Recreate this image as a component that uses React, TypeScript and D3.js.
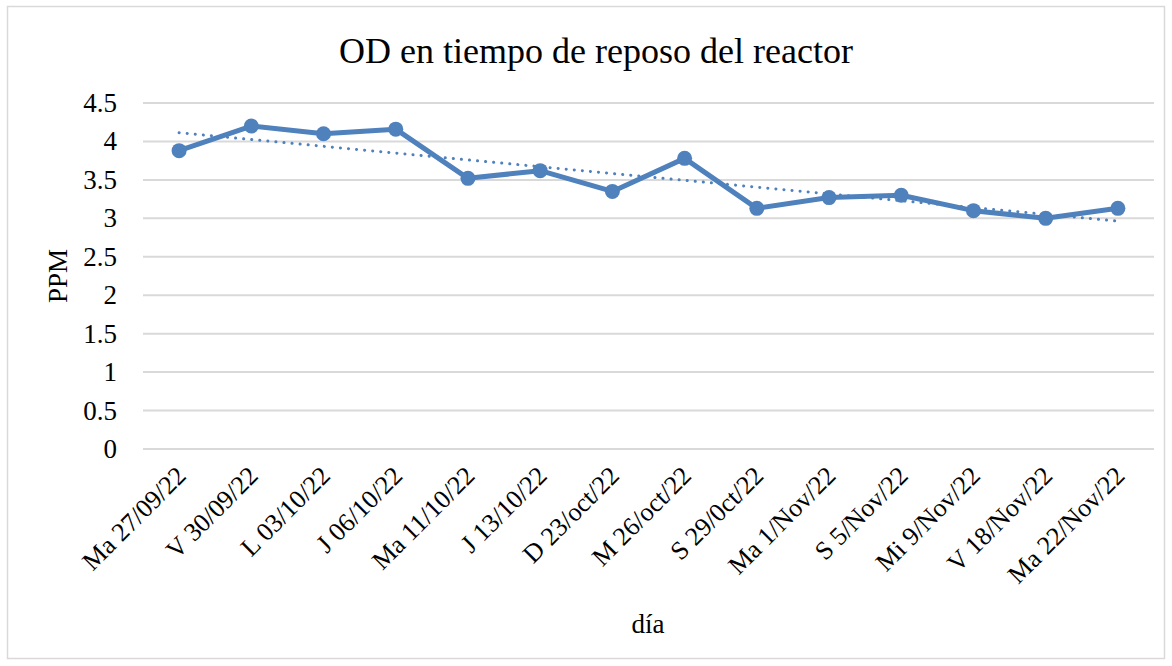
import React from "react";
import * as d3 from "d3";

const categories = [
  "Ma 27/09/22", "V 30/09/22", "L 03/10/22", "J 06/10/22", "Ma 11/10/22",
  "J 13/10/22", "D 23/oct/22", "M 26/oct/22", "S 29/0ct/22", "Ma 1/Nov/22",
  "S 5/Nov/22", "Mi 9/Nov/22", "V 18/Nov/22", "Ma 22/Nov/22",
];
const values = [3.88, 4.2, 4.1, 4.16, 3.52, 3.62, 3.35, 3.78, 3.13, 3.27, 3.3, 3.1, 3.0, 3.13];
const yTicks = [0, 0.5, 1, 1.5, 2, 2.5, 3, 3.5, 4, 4.5];

const W = 1172, H = 666;
const left = 143, right = 1154, top = 103, bottom = 449;
const color = "#4F81BD";
const font = "'Liberation Serif', 'Times New Roman', serif";

export default function App() {
  const x = d3.scaleBand<string>().domain(categories).range([left, right]);
  const y = d3.scaleLinear().domain([0, 4.5]).range([bottom, top]);
  const cx = (c: string) => (x(c) as number) + x.bandwidth() / 2;

  const line = d3.line<number>().x((_, i) => cx(categories[i])).y((v) => y(v));

  // linear trendline (least squares)
  const n = values.length;
  const xs = values.map((_, i) => i + 1);
  const mx = d3.mean(xs) as number;
  const my = d3.mean(values) as number;
  const slope = d3.sum(xs.map((xi, i) => (xi - mx) * (values[i] - my))) / d3.sum(xs.map((xi) => (xi - mx) ** 2));
  const intercept = my - slope * mx;
  const t0 = intercept + slope * 1;
  const t1 = intercept + slope * n;

  return (
    <svg width={W} height={H} style={{ position: "absolute", left: 0, top: 0, background: "#fff" }}>
      <rect x={7.5} y={6.5} width={1157} height={652} fill="#fff" stroke="#d9d9d9" strokeWidth={1.5} />
      <text x={596} y={63} textAnchor="middle" fontFamily={font} fontSize={36} fill="#000">
        OD en tiempo de reposo del reactor
      </text>
      {yTicks.map((t) => (
        <g key={t}>
          <line x1={left} x2={right} y1={y(t)} y2={y(t)} stroke="#d9d9d9" strokeWidth={2} />
          <text x={117} y={y(t) + 9} textAnchor="end" fontFamily={font} fontSize={27} fill="#000">
            {t}
          </text>
        </g>
      ))}
      <text
        transform={`translate(67,${(top + bottom) / 2}) rotate(-90)`}
        textAnchor="middle"
        fontFamily={font}
        fontSize={27}
        fill="#000"
      >
        PPM
      </text>
      {categories.map((c) => (
        <text
          key={c}
          transform={`translate(${cx(c) + 4},${bottom + 24}) rotate(-45)`}
          textAnchor="end"
          dominantBaseline="middle"
          fontFamily={font}
          fontSize={26}
          fill="#000"
        >
          {c}
        </text>
      ))}
      <text x={648} y={633} textAnchor="middle" fontFamily={font} fontSize={27} fill="#000">
        día
      </text>
      <path d={line(values) as string} fill="none" stroke={color} strokeWidth={5} strokeLinejoin="round" />
      {values.map((v, i) => (
        <circle key={i} cx={cx(categories[i])} cy={y(v)} r={7.5} fill={color} />
      ))}
      <line
        x1={cx(categories[0])}
        x2={cx(categories[n - 1])}
        y1={y(t0)}
        y2={y(t1)}
        stroke={color}
        strokeWidth={3}
        strokeLinecap="round"
        strokeDasharray="0.1 8"
      />
    </svg>
  );
}
